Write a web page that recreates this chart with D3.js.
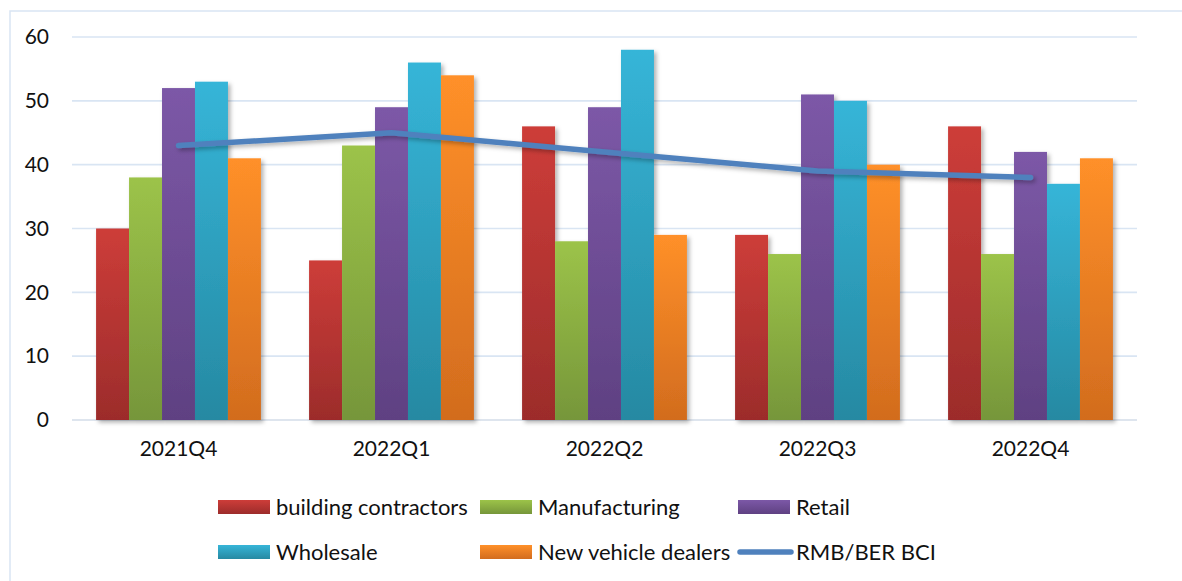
<!DOCTYPE html>
<html>
<head>
<meta charset="utf-8">
<script src="https://cdn.jsdelivr.net/npm/d3@7"></script>
<style>
  html, body { margin: 0; padding: 0; background: #fff; }
  svg { display: block; }
  text { font-family: Lato, "Open Sans", sans-serif; fill: #111; }
</style>
</head>
<body>
<svg id="chart" width="1182" height="581"></svg>
<script>
// Quarterly survey readings per sector
const quarters = ["2021Q4", "2022Q1", "2022Q2", "2022Q3", "2022Q4"];
const seriesNames = ["building contractors", "Manufacturing", "Retail", "Wholesale", "New vehicle dealers"];
const buildingContractors = [30, 25, 46, 29, 46];
const manufacturing = [38, 43, 28, 26, 26];
const retail = [52, 49, 49, 51, 42];
const wholesale = [53, 56, 58, 50, 37];
const newVehicleDealers = [41, 54, 29, 40, 41];
const bciName = "RMB/BER BCI";
const bci = [43, 45, 42, 39, 38];
const yTicks = [0, 10, 20, 30, 40, 50, 60];

const seriesValues = [buildingContractors, manufacturing, retail, wholesale, newVehicleDealers];
const colorsTop = ["#cd3d39", "#9cc349", "#7c58a7", "#36b5d8", "#ff9029"];
const colorsBottom = ["#9c2c2b", "#76963a", "#5f4182", "#2689a2", "#d26c1e"];
const lineColor = "#4f81bd";
const gridColor = "#d9e5f3";

const svg = d3.select("#chart");
const defs = svg.append("defs");

// Soft drop shadow used by bars and the line
const shadow = defs.append("filter").attr("id", "shadow")
  .attr("x", "-20%").attr("y", "-20%").attr("width", "150%").attr("height", "150%");
shadow.append("feDropShadow").attr("dx", 2.5).attr("dy", 2.5)
  .attr("stdDeviation", 2.2).attr("flood-color", "#000").attr("flood-opacity", 0.3);

seriesNames.forEach((name, i) => {
  const g = defs.append("linearGradient").attr("id", "grad" + i)
    .attr("x1", 0).attr("y1", 0).attr("x2", 0).attr("y2", 1);
  g.append("stop").attr("offset", "0%").attr("stop-color", colorsTop[i]);
  g.append("stop").attr("offset", "100%").attr("stop-color", colorsBottom[i]);
});

// Outer frame
svg.append("rect").attr("x", 10).attr("y", 11).attr("width", 1190).attr("height", 600)
  .attr("fill", "none").attr("stroke", gridColor).attr("stroke-width", 1.5);

const plotLeft = 72, plotRight = 1137, plotTop = 37, plotBottom = 420;

const x = d3.scaleBand().domain(quarters).range([plotLeft, plotRight]);
// each category holds five adjacent bars with a margin on both sides
const groupMargin = x.bandwidth() * 0.113;
const xInner = d3.scaleBand().domain(d3.range(seriesNames.length))
  .range([groupMargin, x.bandwidth() - groupMargin]);
const y = d3.scaleLinear().domain([0, 60]).range([plotBottom, plotTop]);

// Horizontal gridlines
svg.append("g").selectAll("line").data(yTicks).join("line")
  .attr("x1", plotLeft).attr("x2", plotRight)
  .attr("y1", d => y(d)).attr("y2", d => y(d))
  .attr("stroke", d => d === 0 ? "#d3dde9" : gridColor).attr("stroke-width", 1.6);

// Y axis labels
const yAxis = d3.axisLeft(y).tickValues(yTicks).tickSize(0).tickPadding(0);
const yg = svg.append("g").attr("transform", `translate(49,0)`).call(yAxis);
yg.select(".domain").remove();
yg.selectAll("text").attr("font-size", 21).attr("fill", "#111")
  .style("font-family", "Lato, sans-serif");

// X axis labels
const xAxis = d3.axisBottom(x).tickSize(0).tickPadding(0);
const xg = svg.append("g").attr("transform", `translate(0,${plotBottom + 21})`).call(xAxis);
xg.select(".domain").remove();
xg.selectAll("text").attr("font-size", 21).attr("fill", "#111")
  .style("font-family", "Lato, sans-serif");

// Bars
const barGroups = svg.append("g").selectAll("g").data(quarters).join("g")
  .attr("transform", q => `translate(${x(q)},0)`)
  .attr("filter", "url(#shadow)");
barGroups.selectAll("rect")
  .data((q, qi) => seriesValues.map((vals, si) => ({ si, v: vals[qi] })))
  .join("rect")
  .attr("x", d => xInner(d.si))
  .attr("width", xInner.bandwidth())
  .attr("y", d => y(d.v))
  .attr("height", d => y(0) - y(d.v))
  .attr("fill", d => `url(#grad${d.si})`);

// BCI line
const line = d3.line().x((d, i) => x(quarters[i]) + x.bandwidth() / 2).y(d => y(d));
svg.append("path").datum(bci).attr("d", line)
  .attr("fill", "none").attr("stroke", lineColor).attr("stroke-width", 5.5)
  .attr("stroke-linecap", "round").attr("stroke-linejoin", "round")
  .attr("filter", "url(#shadow)");

// Legend
const legendItems = [
  { name: seriesNames[0], kind: "bar", idx: 0, col: 0, row: 0 },
  { name: seriesNames[1], kind: "bar", idx: 1, col: 1, row: 0 },
  { name: seriesNames[2], kind: "bar", idx: 2, col: 2, row: 0 },
  { name: seriesNames[3], kind: "bar", idx: 3, col: 0, row: 1 },
  { name: seriesNames[4], kind: "bar", idx: 4, col: 1, row: 1 },
  { name: bciName, kind: "line", col: 2, row: 1 }
];
const colX = [218, 480, 738];
const rowY = [507, 552];
const lg = svg.append("g").selectAll("g").data(legendItems).join("g")
  .attr("transform", d => `translate(${colX[d.col]},${rowY[d.row]})`);
lg.filter(d => d.kind === "bar").append("rect")
  .attr("x", 0).attr("y", -7).attr("width", 52).attr("height", 14)
  .attr("fill", d => `url(#grad${d.idx})`);
lg.filter(d => d.kind === "line").append("line")
  .attr("x1", 2).attr("x2", 53).attr("y1", 0).attr("y2", 0)
  .attr("stroke", lineColor).attr("stroke-width", 5.5).attr("stroke-linecap", "round");
lg.append("text").attr("x", 58).attr("y", 0).attr("dy", "0.35em")
  .attr("font-size", 22).text(d => d.name);
</script>
</body>
</html>
